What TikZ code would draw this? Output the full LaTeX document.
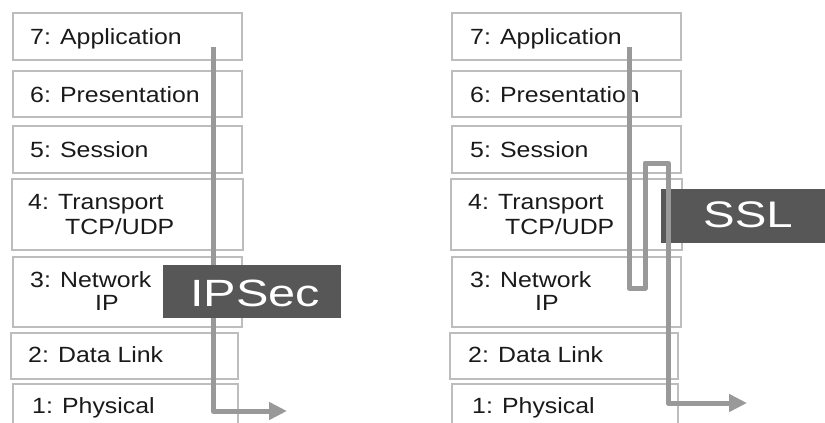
\documentclass[tikz,border=0pt]{standalone}
\usepackage{fontspec}
\setmainfont{Liberation Sans}[FakeStretch=1.13]
\newfontfamily\bigsans{Liberation Sans}[FakeStretch=1.28]
\usetikzlibrary{arrows.meta}
\definecolor{boxline}{HTML}{BDBDBD}
\definecolor{flow}{HTML}{999999}
\definecolor{tag}{HTML}{575757}
\definecolor{ink}{HTML}{1A1A1A}
\tikzset{
  layer/.style={draw=boxline, line width=1.5pt, fill=white, inner sep=0pt},
  ltext/.style={anchor=base west, inner sep=0pt, text=ink, font=\fontsize{22}{26}\selectfont},
  tagbox/.style={fill=tag, draw=none, inner sep=0pt},
  tagtext/.style={anchor=base west, inner sep=0pt, text=white, font=\bigsans\fontsize{38}{44}\selectfont},
  flowline/.style={draw=flow, line width=5pt, line join=round, -{Triangle[length=18pt,width=17pt]}}
}
\newcommand{\layerbox}[5]{% name, x1, y1, x2, y2
  \node[layer, minimum width={#4-#2}, minimum height={#5-#3}] (#1) at ({(#2+#4)/2},{(#3+#5)/2}) {};}
\begin{document}
\begin{tikzpicture}[x=1pt,y=-1pt]
\useasboundingbox (0,0) rectangle (825,423);
\begin{scope}
\clip (0,0) rectangle (825,423);
% ---------- left stack ----------
\layerbox{La}{13}{13}{242}{60}
\layerbox{Lb}{13}{71}{242}{117}
\layerbox{Lc}{13}{126}{242}{173}
\layerbox{Ld}{12}{179}{243}{250}
\layerbox{Le}{13}{257}{242}{327}
\layerbox{Lf}{11}{333}{238}{379}
\layerbox{Lg}{13}{384}{238}{440}
\node[ltext] (tLa) at (30,44) {7: Application};
\node[ltext] (tLb) at (30,102) {6: Presentation};
\node[ltext] (tLc) at (30,157) {5: Session};
\node[ltext] (tLd) at (28,209) {4: Transport};
\node[ltext] (tLd2) at (65,234) {TCP/UDP};
\node[ltext] (tLe) at (30,287) {3: Network};
\node[ltext] (tLe2) at (95,310) {IP};
\node[ltext] (tLf) at (28,362) {2: Data Link};
\node[ltext] (tLg) at (32,413) {1: Physical};
\coordinate (Ls) at (213,47);
\coordinate (Lc1) at (213,411);
\coordinate (Le) at (287,411);
\draw[flowline] (Ls) -- (Lc1) -- (Le);
\node[tagbox, minimum width=178pt, minimum height=53pt] (ipsec) at (252,291.5) {};
\node[tagtext, font=\bigsans\fontsize{38}{44}\selectfont] (tipsec) at (190,306) {IPSec};
% ---------- right stack ----------
\layerbox{Ra}{452}{13}{681}{60}
\layerbox{Rb}{452}{71}{681}{117}
\layerbox{Rc}{452}{126}{681}{173}
\layerbox{Rd}{451}{179}{682}{250}
\layerbox{Re}{452}{257}{681}{327}
\layerbox{Rf}{450}{333}{678}{379}
\layerbox{Rg}{452}{384}{678}{440}
\node[ltext] (tRa) at (470,44) {7: Application};
\node[ltext] (tRb) at (470,102) {6: Presentation};
\node[ltext] (tRc) at (470,157) {5: Session};
\node[ltext] (tRd) at (468,209) {4: Transport};
\node[ltext] (tRd2) at (505,234) {TCP/UDP};
\node[ltext] (tRe) at (470,287) {3: Network};
\node[ltext] (tRe2) at (535,310) {IP};
\node[ltext] (tRf) at (468,362) {2: Data Link};
\node[ltext] (tRg) at (472,413) {1: Physical};
\node[tagbox, minimum width=180pt, minimum height=54pt] (ssl) at (751,216) {};
\node[tagtext, font=\bigsans\fontsize{37}{44}\selectfont] (tssl) at (703,227) {SSL};
\coordinate (Rs) at (629,47);
\coordinate (R1) at (629,288);
\coordinate (R2) at (645,288);
\coordinate (R3) at (645,163);
\coordinate (R4) at (668,163);
\coordinate (R5) at (668,403);
\coordinate (Re) at (747,403);
\draw[flowline] (Rs) -- (R1) -- (R2) -- (R3) -- (R4) -- (R5) -- (Re);
\end{scope}
\end{tikzpicture}
\end{document}
